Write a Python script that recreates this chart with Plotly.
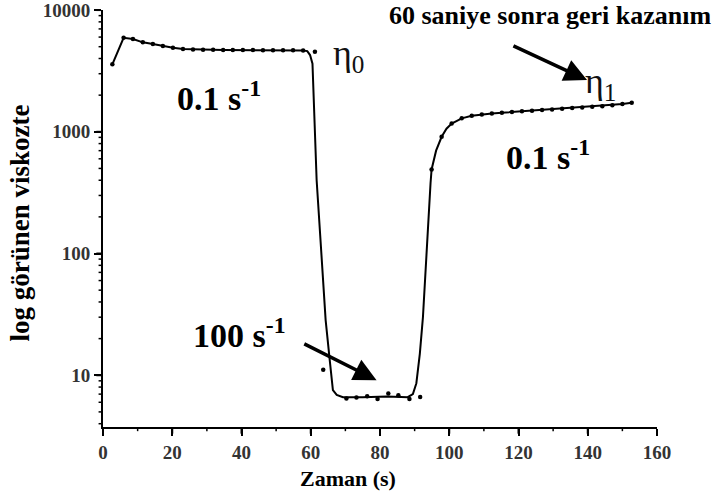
import plotly.graph_objects as go

# ---- data ----
dot_time = [2.7, 5.95, 8.65, 11.5, 14.4, 17.3, 20.2, 23.1, 26.0, 28.9, 31.8, 34.7, 37.5,
            40.4, 43.3, 46.2, 49.1, 52.0, 54.9, 57.8, 61.2,
            63.6, 70.3, 73.2, 76.3, 79.3, 82.4, 85.3, 88.5, 91.6,
            94.9, 97.8, 100.7, 103.6, 106.5, 109.4, 112.3, 115.2, 118.1, 121.0, 123.9,
            126.8, 129.7, 132.6, 135.5, 138.4, 141.3, 144.2, 147.1, 150.0, 152.7]
dot_visc = [3580, 5920, 5780, 5430, 5260, 5060, 4900, 4790, 4750, 4730, 4710, 4700, 4700,
            4690, 4690, 4680, 4680, 4670, 4670, 4660, 4540,
            11.1, 6.44, 6.57, 6.73, 6.37, 7.08, 6.86, 6.37, 6.64,
            490, 910, 1170, 1290, 1355, 1390, 1416, 1432, 1452, 1472, 1490,
            1507, 1528, 1546, 1566, 1585, 1604, 1625, 1656, 1689, 1730]

curve_time = [2.7, 5.95, 8.65, 11.5, 14.4, 17.3, 20.2, 23.1, 26.0, 28.9, 31.8, 34.7, 37.5,
              40.4, 43.3, 46.2, 49.1, 52.0, 54.9, 57.8,
              59.0, 59.8, 60.5, 60.7, 61.2, 61.7, 63.0, 64.3, 65.5, 66.4, 67.5, 69.3,
              75.0, 82.0, 88.0, 89.5, 90.5, 91.5, 92.4, 93.4, 94.6, 94.9, 96.2, 97.8,
              99.2, 100.7, 103.6, 106.5, 109.4, 112.3, 115.2, 118.1, 121.0, 123.9,
              126.8, 129.7, 132.6, 135.5, 138.4, 141.3, 144.2, 147.1, 150.0, 152.7]
curve_visc = [3580, 5920, 5780, 5430, 5260, 5060, 4900, 4790, 4750, 4730, 4710, 4700, 4700,
              4690, 4690, 4680, 4680, 4670, 4670, 4660,
              4600, 4270, 3630, 2630, 1020, 400, 107, 28.4, 13.2, 7.55, 6.9, 6.6,
              6.6, 6.7, 6.6, 7.0, 8.6, 15, 30, 107, 380, 490, 700, 910,
              1060, 1170, 1290, 1355, 1390, 1416, 1432, 1452, 1472, 1490,
              1507, 1528, 1546, 1566, 1585, 1604, 1625, 1656, 1689, 1730]

x_ticks = [0, 20, 40, 60, 80, 100, 120, 140, 160]
x_tick_text = ["0", "20", "40", "60", "80", "100", "120", "140", "160"]
x_minor_ticks = [10, 30, 50, 70, 90, 110, 130, 150]
y_ticks = [10, 100, 1000, 10000]
y_tick_text = ["10", "100", "1000", "10000"]
y_minor_ticks = [4, 5, 6, 7, 8, 9,
                 20, 30, 40, 50, 60, 70, 80, 90,
                 200, 300, 400, 500, 600, 700, 800, 900,
                 2000, 3000, 4000, 5000, 6000, 7000, 8000, 9000]

SERIF = "Liberation Serif"

fig = go.Figure()
fig.add_trace(go.Scatter(x=curve_time, y=curve_visc, mode="lines",
                         line=dict(color="black", width=2), hoverinfo="skip",
                         showlegend=False))
fig.add_trace(go.Scatter(x=dot_time, y=dot_visc, mode="markers",
                         marker=dict(color="black", size=4.5), showlegend=False))

tickfont = dict(family=SERIF, size=19, color="#333", weight="bold")

common = dict(showline=True, linecolor="black", linewidth=2,
              ticks="outside", ticklen=7, tickwidth=2, tickcolor="black",
              showgrid=False, zeroline=False, tickfont=tickfont,
              ticklabeloverflow="allow", automargin=False)

fig.update_layout(
    xaxis=dict(range=[0, 160], tickmode="array", tickvals=x_ticks,
               ticktext=x_tick_text, **common),
    yaxis=dict(type="log", range=[0.575, 4.0005], tickmode="array",
               tickvals=y_ticks, ticktext=y_tick_text, **common),
)

# tick marks drawn as shapes anchored to the axes
for v in x_ticks:
    fig.add_shape(type="line", xref="x", yref="paper", x0=v, x1=v, y0=0, y1=-0.016,
                  line=dict(color="black", width=2))
for v in x_minor_ticks:
    fig.add_shape(type="line", xref="x", yref="paper", x0=v, x1=v, y0=0, y1=-0.010,
                  line=dict(color="black", width=1.5))
for v in y_ticks:
    fig.add_shape(type="line", xref="paper", yref="y", x0=0, x1=-0.012, y0=v, y1=v,
                  line=dict(color="black", width=2))
for v in y_minor_ticks:
    fig.add_shape(type="line", xref="paper", yref="y", x0=0, x1=-0.008, y0=v, y1=v,
                  line=dict(color="black", width=1.5))

bold_big = dict(family=SERIF, size=34, color="black", weight="bold")
eta_font = dict(family=SERIF, size=36, color="#111")

def ann(**kw):
    base = dict(xanchor="center", yanchor="middle", showarrow=False)
    base.update(kw)
    return base

annotations = [
    ann(x=33.5, y=3.29, xref="x", yref="y", text="0.1 s<sup>-1</sup>", font=bold_big),
    ann(x=128.5, y=2.81, xref="x", yref="y", text="0.1 s<sup>-1</sup>", font=bold_big),
    ann(x=39.5, y=1.35, xref="x", yref="y", text="100 s<sup>-1</sup>", font=bold_big),
    ann(x=70.8, y=3.63, xref="x", yref="y", text="η<sub>0</sub>", font=eta_font),
    ann(x=143.8, y=3.40, xref="x", yref="y", text="η<sub>1</sub>", font=eta_font),
    dict(x=139.8, y=3.425, ax=118.1, ay=3.712, xref="x", yref="y",
         axref="x", ayref="y", text="", showarrow=True, arrowhead=2,
         arrowsize=1.3, arrowwidth=3.5, arrowcolor="black"),
    dict(x=79.0, y=0.96, ax=57.7, ay=1.264, xref="x", yref="y",
         axref="x", ayref="y", text="", showarrow=True, arrowhead=2,
         arrowsize=1.3, arrowwidth=3.5, arrowcolor="black"),
    ann(x=0.807, y=0.986, xref="paper", yref="paper",
        text="60 saniye sonra geri kazanım",
        font=dict(family=SERIF, size=26, color="black", weight="bold")),
    ann(x=0.443, y=-0.123, xref="paper", yref="paper", text="Zaman (s)",
        font=dict(family=SERIF, size=22, color="black", weight="bold")),
    ann(x=-0.149, y=0.489, xref="paper", yref="paper",
        text="log görünen viskozte", textangle=-90,
        font=dict(family=SERIF, size=27, color="black", weight="bold")),
]

fig.update_layout(width=723, height=499,
                  margin=dict(l=103, r=66, t=10, b=72, autoexpand=False),
                  plot_bgcolor="white", paper_bgcolor="white",
                  annotations=annotations)

fig.write_html("out.html")
